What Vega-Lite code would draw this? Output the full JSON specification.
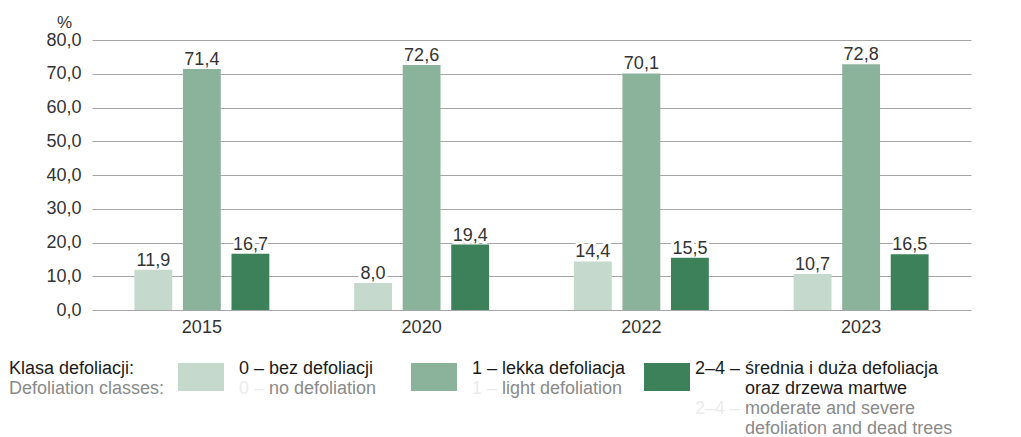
{
  "$schema": "https://vega.github.io/schema/vega-lite/v6.json",
  "padding": {"left": 8, "top": 13, "right": 5, "bottom": 0},
  "bounds": "flush",
  "spacing": 59,
  "config": {
    "font": "Liberation Sans",
    "view": {"stroke": null},
    "locale": {"number": {"decimal": ",", "thousands": " ", "grouping": [3], "currency": ["", ""]}}
  },
  "vconcat": [
    {
      "width": 879,
      "height": 270,
      "data": {"values": [
        {"year": "2015", "cls": "0", "value": 11.9},
        {"year": "2015", "cls": "1", "value": 71.4},
        {"year": "2015", "cls": "2–4", "value": 16.7},
        {"year": "2020", "cls": "0", "value": 8.0},
        {"year": "2020", "cls": "1", "value": 72.6},
        {"year": "2020", "cls": "2–4", "value": 19.4},
        {"year": "2022", "cls": "0", "value": 14.4},
        {"year": "2022", "cls": "1", "value": 70.1},
        {"year": "2022", "cls": "2–4", "value": 15.5},
        {"year": "2023", "cls": "0", "value": 10.7},
        {"year": "2023", "cls": "1", "value": 72.8},
        {"year": "2023", "cls": "2–4", "value": 16.5}
      ]},
      "encoding": {
        "x": {"field": "year", "type": "nominal",
          "scale": {"paddingInner": 0.386, "paddingOuter": 0.193},
          "axis": {"title": null, "labelAngle": 0, "labelFontSize": 18, "labelColor": "#333333", "labelPadding": 8, "ticks": false, "domain": false, "grid": false}},
        "xOffset": {"field": "cls", "type": "nominal", "scale": {"paddingInner": 0.22, "paddingOuter": 0}},
        "y": {"field": "value", "type": "quantitative",
          "scale": {"domain": [0, 80], "nice": false},
          "axis": {"values": [0, 10, 20, 30, 40, 50, 60, 70, 80], "format": ".1f",
            "title": "%", "titleAngle": 0, "titleAlign": "center", "titleX": -28, "titleY": -13, "titleBaseline": "alphabetic",
            "titleFontSize": 17, "titleFontWeight": "normal", "titleColor": "#333333",
            "grid": true, "gridColor": "#a6a6a6", "gridWidth": 1, "domain": false, "ticks": false,
            "labelPadding": 11, "labelFontSize": 18, "labelColor": "#333333"}}
      },
      "layer": [
        {"mark": {"type": "text", "baseline": "alphabetic", "dy": -4, "fontSize": 18, "stroke": "white", "strokeWidth": 6, "strokeJoin": "round", "fill": "white"},
         "encoding": {"text": {"field": "value", "type": "quantitative", "format": ".1f"}}},
        {"mark": {"type": "bar"},
         "encoding": {"color": {"field": "cls", "type": "nominal",
           "scale": {"domain": ["0", "1", "2–4"], "range": ["#c6d9cd", "#8bb39c", "#3c8159"]}, "legend": null}}},
        {"mark": {"type": "text", "baseline": "alphabetic", "dy": -4, "fontSize": 18, "fill": "#333333"},
         "encoding": {"text": {"field": "value", "type": "quantitative", "format": ".1f"}}}
      ]
    },
    {
      "width": 684,
      "height": 60,
      "data": {"values": [
        {"cls": "0", "line": 1, "prefix": "0 –", "body": "bez defoliacji", "lang": "pl", "title": "Klasa defoliacji:"},
        {"cls": "0", "line": 2, "prefix": "0 –", "body": "no defoliation", "lang": "en", "title": "Defoliation classes:"},
        {"cls": "1", "line": 1, "prefix": "1 –", "body": "lekka defoliacja", "lang": "pl"},
        {"cls": "1", "line": 2, "prefix": "1 –", "body": "light defoliation", "lang": "en"},
        {"cls": "2–4", "line": 1, "prefix": "2–4 –", "body": "średnia i duża defoliacja", "lang": "pl"},
        {"cls": "2–4", "line": 2, "prefix": "", "body": "oraz drzewa martwe", "lang": "pl"},
        {"cls": "2–4", "line": 3, "prefix": "2–4 –", "body": "moderate and severe", "lang": "en"},
        {"cls": "2–4", "line": 4, "prefix": "", "body": "defoliation and dead trees", "lang": "en"}
      ]},
      "encoding": {
        "x": {"field": "cls", "type": "nominal", "scale": {"type": "point", "domain": ["0", "1", "2–4"], "padding": 0.4678}, "axis": null},
        "y": {"field": "line", "type": "ordinal", "scale": {"type": "point", "domain": [1, 2, 3, 4], "padding": 0}, "axis": null}
      },
      "layer": [
        {"transform": [{"filter": "datum.line == 1"}],
         "mark": {"type": "point", "shape": "M-1,-0.61H1V0.61H-1Z", "size": 2116, "filled": true, "opacity": 1, "strokeWidth": 0, "yOffset": 8},
         "encoding": {"color": {"field": "cls", "type": "nominal",
           "scale": {"domain": ["0", "1", "2–4"], "range": ["#c6d9cd", "#8bb39c", "#3c8159"]}, "legend": null}}},
        {"transform": [{"filter": "datum.title"}],
         "mark": {"type": "text", "align": "left", "baseline": "middle", "dx": -192, "fontSize": 18},
         "encoding": {"text": {"field": "title"},
           "color": {"condition": {"test": "datum.lang == 'pl'", "value": "#1a1a1a"}, "value": "#8a8a8a"}}},
        {"transform": [{"filter": "datum.cls != '2–4'"}],
         "mark": {"type": "text", "align": "right", "baseline": "middle", "dx": 63, "fontSize": 18},
         "encoding": {"text": {"field": "prefix"},
           "color": {"condition": {"test": "datum.lang == 'pl'", "value": "#1a1a1a"}, "value": "#ececec"}}},
        {"transform": [{"filter": "datum.cls == '2–4'"}],
         "mark": {"type": "text", "align": "right", "baseline": "middle", "dx": 73, "fontSize": 18},
         "encoding": {"text": {"field": "prefix"},
           "color": {"condition": {"test": "datum.lang == 'pl'", "value": "#1a1a1a"}, "value": "#ececec"}}},
        {"transform": [{"filter": "datum.cls != '2–4'"}],
         "mark": {"type": "text", "align": "left", "baseline": "middle", "dx": 68, "fontSize": 18},
         "encoding": {"text": {"field": "body"},
           "color": {"condition": {"test": "datum.lang == 'pl'", "value": "#1a1a1a"}, "value": "#8a8a8a"}}},
        {"transform": [{"filter": "datum.cls == '2–4'"}],
         "mark": {"type": "text", "align": "left", "baseline": "middle", "dx": 78, "fontSize": 18},
         "encoding": {"text": {"field": "body"},
           "color": {"condition": {"test": "datum.lang == 'pl'", "value": "#1a1a1a"}, "value": "#8a8a8a"}}}
      ]
    }
  ]
}
